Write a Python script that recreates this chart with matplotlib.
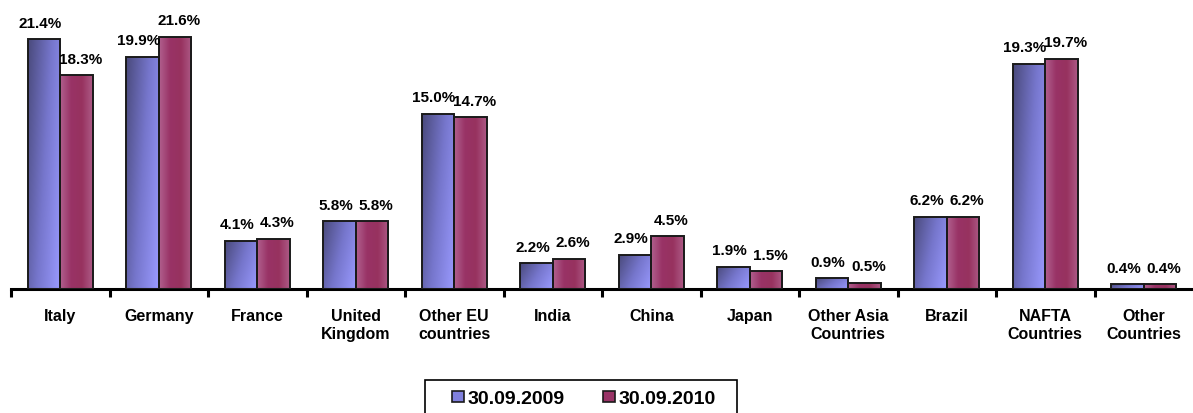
import matplotlib
matplotlib.use("Agg")
import matplotlib.pyplot as plt
import numpy as np
from matplotlib.colors import LinearSegmentedColormap
from matplotlib.patches import Patch, Rectangle

plt.rcParams["font.family"] = ["Liberation Sans", "DejaVu Sans"]
plt.rcParams["font.weight"] = "bold"

categories = ["Italy", "Germany", "France", "United\nKingdom", "Other EU\ncountries",
              "India", "China", "Japan", "Other Asia\nCountries", "Brazil",
              "NAFTA\nCountries", "Other\nCountries"]
share_2009 = [21.4, 19.9, 4.1, 5.8, 15.0, 2.2, 2.9, 1.9, 0.9, 6.2, 19.3, 0.4]
share_2010 = [18.3, 21.6, 4.3, 5.8, 14.7, 2.6, 4.5, 1.5, 0.5, 6.2, 19.7, 0.4]
series_names = ["30.09.2009", "30.09.2010"]

blue_cmap = LinearSegmentedColormap.from_list("b", ["#4a4a7c", "#7676cc", "#9a9aff"])
red_cmap = LinearSegmentedColormap.from_list("r", ["#b0608e", "#993366", "#97325f", "#ad5a86"])

fig = plt.figure(figsize=(11.93, 4.13), dpi=100)
ax = fig.add_axes([11 / 1193, 124 / 413, 1182 / 1193, 289 / 413])

n = len(categories)
x = np.arange(n)
width = 0.33


def gradient_bar(xc, h, cmap, diagonal):
    bar = ax.bar(xc, h, width, color="none", edgecolor="#1a1a1a", linewidth=1.4, zorder=3)[0]
    gx = np.linspace(0, 1, 64)
    gy = np.linspace(0, 1, 64)
    X, Y = np.meshgrid(gx, gy)
    if diagonal:
        Z = 0.75 * X + 0.35 * (1 - Y)
        Z = Z / Z.max()
    else:
        Z = X
    im = ax.imshow(Z, cmap=cmap, extent=[xc - width / 2, xc + width / 2, h, 0],
                   aspect="auto", zorder=2, interpolation="bilinear")
    im.set_clip_path(bar)
    return bar


for i in range(n):
    gradient_bar(x[i] - width / 2, share_2009[i], blue_cmap, True)
    gradient_bar(x[i] + width / 2, share_2010[i], red_cmap, False)

ax.set_xlim(-0.5, n - 0.5)
ax.set_ylim(0, 24.77)

# value labels above each bar, nudged apart so neighbours don't collide
for i in range(n):
    ax.text(x[i] - width / 2 - 0.04, share_2009[i] + 0.75, f"{share_2009[i]:.1f}%",
            ha="center", va="bottom", fontsize=11, fontweight="bold")
    ax.text(x[i] + width / 2 + 0.04, share_2010[i] + 0.75, f"{share_2010[i]:.1f}%",
            ha="center", va="bottom", fontsize=11, fontweight="bold")

for s in ["top", "right", "left"]:
    ax.spines[s].set_visible(False)
ax.spines["bottom"].set_linewidth(2.2)
ax.set_yticks([])
ax.set_xticks(np.arange(n) - 0.5)
ax.set_xticklabels([])
ax.tick_params(axis="x", length=6, width=2.2, direction="out")

for i, c in enumerate(categories):
    ax.text(x[i], -1.75, c, ha="center", va="top", fontsize=11.5, fontweight="bold",
            linespacing=1.2)

# legend box drawn by hand so its padding is wider than the entries need
fig.patches.append(Rectangle((425 / 1193, -10 / 413), 312 / 1193, 43 / 413,
                             transform=fig.transFigure, facecolor="white",
                             edgecolor="black", linewidth=1.2, zorder=1))
handles = [Patch(facecolor="#8080dd", edgecolor="#1a1a1a", linewidth=1.2),
           Patch(facecolor="#993366", edgecolor="#1a1a1a", linewidth=1.2)]
leg = fig.legend(handles, series_names, loc="upper center", bbox_to_anchor=(584 / 1193, 36 / 413),
                 ncol=2, frameon=False, prop={"size": 14, "weight": "bold"},
                 handlelength=0.62, handleheight=0.5, handletextpad=0.15,
                 columnspacing=2.0, borderpad=0.2)
leg.set_zorder(2)

fig.savefig("out.png", dpi=100)
